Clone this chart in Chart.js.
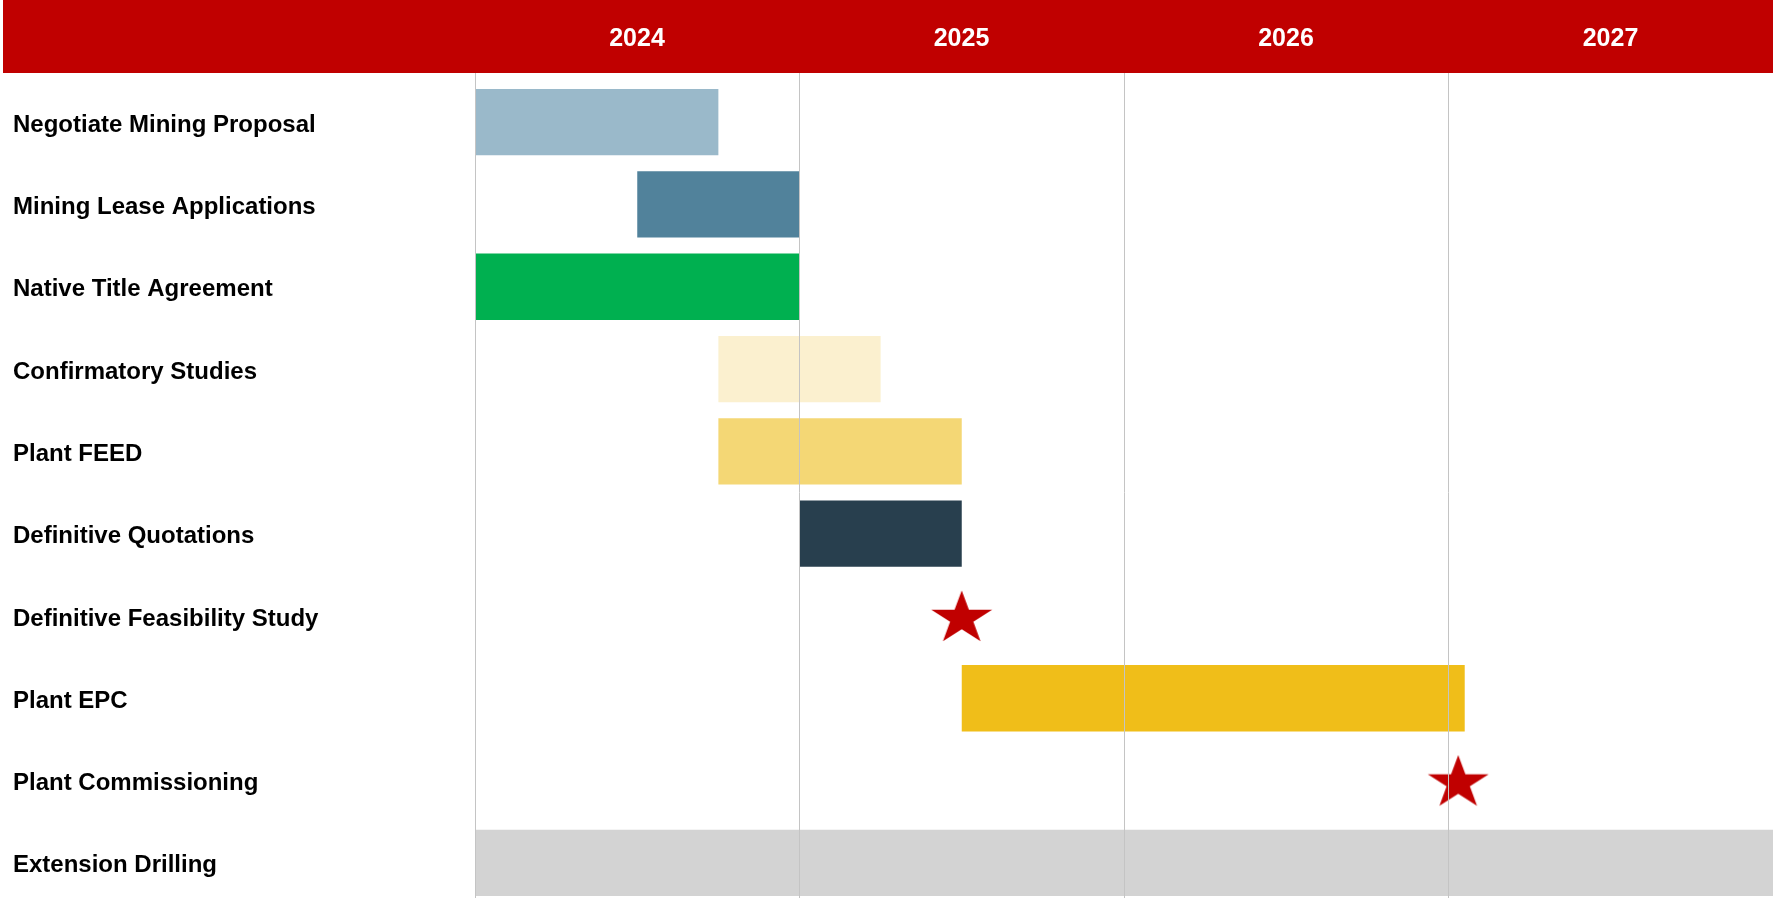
<!DOCTYPE html>
<html><head><meta charset="utf-8">
<script src="https://cdn.jsdelivr.net/npm/chart.js@4.4.1/dist/chart.umd.min.js"></script>
<style>html,body{margin:0;padding:0;overflow:hidden;background:#fff;width:1773px;height:898px}canvas{display:block}</style>
</head><body>
<canvas id="c" width="1773" height="904"></canvas>
<script>
// ---- data ----
const tasks = [
  'Negotiate Mining Proposal',
  'Mining Lease Applications',
  'Native Title Agreement',
  'Confirmatory Studies',
  'Plant FEED',
  'Definitive Quotations',
  'Definitive Feasibility Study',
  'Plant EPC',
  'Plant Commissioning',
  'Extension Drilling'
];
const barStart = [2024, 2024.5, 2024, 2024.75, 2024.75, 2025, null, 2025.5, null, 2024];
const barEnd   = [2024.75, 2025, 2025, 2025.25, 2025.5, 2025.5, null, 2027.05, null, 2028];
const barColors = ['#9ab9ca', '#51829b', '#00b050', '#fbf0cf', '#f4d775', '#283f4e', '#ffffff', '#f0be19', '#ffffff', '#d3d3d3'];
const milestoneTasks = ['Definitive Feasibility Study', 'Plant Commissioning'];
const milestoneDates = [2025.5, 2027.03];
const yearTicks = [2024, 2025, 2026, 2027, 2028];
const yearLabels = ['2024', '2025', '2026', '2027', ''];

// ---- star marker ----
function makeStar(color) {
  const w = 64, h = 52;
  const c = document.createElement('canvas');
  c.width = w; c.height = h;
  const g = c.getContext('2d');
  const R = 32, r = R * 0.382, sy = 0.879;
  const cx = w / 2, cy = 0.4 + R * sy;
  g.beginPath();
  for (let i = 0; i < 10; i++) {
    const a = i * Math.PI / 5;
    const rad = i % 2 === 0 ? R : r;
    const x = cx + rad * Math.sin(a);
    const y = cy - rad * Math.cos(a) * sy;
    if (i === 0) g.moveTo(x, y); else g.lineTo(x, y);
  }
  g.closePath();
  g.fillStyle = color;
  g.fill();
  return c;
}
const star = makeStar('#c00000');

const headerBand = {
  id: 'headerBand',
  beforeDraw(chart) {
    const ctx = chart.ctx;
    const xs = chart.scales.x;
    ctx.save();
    ctx.fillStyle = '#c00000';
    ctx.fillRect(3, 0, chart.width - 3, xs.bottom - xs.options.grid.tickLength);
    ctx.restore();
  }
};

const gridColor = '#c4c4c4';
new Chart(document.getElementById('c'), {
  type: 'bar',
  data: {
    labels: tasks,
    datasets: [
      {
        type: 'scatter',
        data: milestoneTasks.map((t, i) => ({ x: milestoneDates[i], y: t })),
        pointStyle: star,
        pointRadius: 30,
        pointHoverRadius: 30,
        backgroundColor: '#c00000',
        order: 1
      },
      {
        type: 'bar',
        data: tasks.map((t, i) => barStart[i] == null ? null : [barStart[i], barEnd[i]]),
        backgroundColor: barColors,
        borderWidth: 0,
        categoryPercentage: 0.805,
        barPercentage: 1,
        order: 2
      }
    ]
  },
  options: {
    indexAxis: 'y',
    responsive: false,
    animation: false,
    devicePixelRatio: 1,
    layout: { autoPadding: false, padding: { left: 13, right: 0, top: 0, bottom: 0 } },
    plugins: { legend: { display: false }, tooltip: { enabled: false } },
    scales: {
      x: {
        type: 'linear',
        position: 'top',
        min: 2024,
        max: 2028,
        afterBuildTicks: s => { s.ticks = yearTicks.map(v => ({ value: v })); },
        afterFit: s => { s.height = 81; s.paddingLeft = 0; s.paddingRight = 0; },
        ticks: {
          callback: (v, i) => yearLabels[i],
          color: '#ffffff',
          font: { family: 'Liberation Sans', size: 25, weight: 'bold' },
          labelOffset: 162,
          padding: 19,
          maxRotation: 0,
          autoSkip: false
        },
        grid: {
          color: ctx => (ctx.tick && ctx.tick.value === 2028) ? 'rgba(0,0,0,0)' : gridColor,
          lineWidth: 1,
          tickLength: 8,
          drawTicks: true,
          z: 1
        },
        border: { display: false }
      },
      y: {
        type: 'category',
        position: 'left',
        offset: true,
        afterFit: s => { s.width = 462; s.paddingTop = 0; s.paddingBottom = 0; },
        ticks: {
          crossAlign: 'far',
          color: '#000000',
          font: { family: 'Liberation Sans', size: 24, weight: 'bold' },
          labelOffset: 3,
          autoSkip: false
        },
        grid: { display: false },
        border: { display: true, color: gridColor, width: 1, z: 1 }
      }
    }
  },
  plugins: [headerBand]
});
</script>
</body></html>
